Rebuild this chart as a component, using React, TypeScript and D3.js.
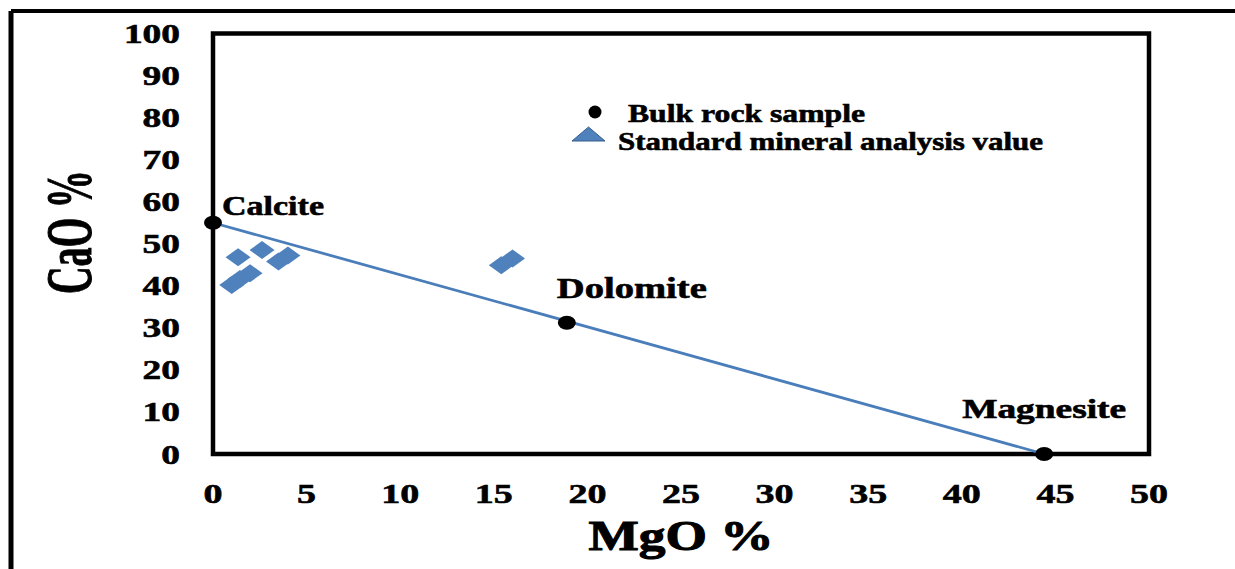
import React from 'react';
import * as d3 from 'd3';

// CaO vs MgO, bulk rock samples and standard mineral values
const bulkNames = ['Calcite', 'Dolomite', 'Magnesite'];
const bulkMgO = [0, 18.9, 44.4];
const bulkCaO = [55, 31.2, 0];

const mineralMgO = [1.0, 1.44, 1.98, 1.34, 2.62, 3.5, 4.0, 15.4, 16.0];
const mineralCaO = [40.2, 41.6, 43.0, 46.8, 48.5, 45.8, 47.2, 44.9, 46.5];

const xTicks = [0, 5, 10, 15, 20, 25, 30, 35, 40, 45, 50];
const yTicks = [0, 10, 20, 30, 40, 50, 60, 70, 80, 90, 100];

const width = 1235;
const height = 569;
const font = '"Liberation Serif", "Times New Roman", serif';
const blue = '#4f81bd';

const App = () => {
  const x = d3.scaleLinear().domain([0, 50]).range([213, 1149]);
  const y = d3.scaleLinear().domain([0, 100]).range([454, 33.5]);

  const trend = d3.line<number>()
    .x(i => x(bulkMgO[i]))
    .y(i => y(bulkCaO[i]));

  const diamond = (cx: number, cy: number) =>
    `M${cx - 12.5},${cy} L${cx},${cy - 9} L${cx + 12.5},${cy} L${cx},${cy + 9} Z`;

  // label offsets relative to each bulk point
  const labelPos = [
    { dx: 9, dy: -8, len: 102, size: 28 },
    { dx: -10, dy: -25, len: 150, size: 29 },
    { dx: -82, dy: -36, len: 164, size: 27 },
  ];

  // bold text, slightly thickened like the stretched original
  const heavy = { fontFamily: font, fontWeight: 'bold' as const, stroke: '#000', strokeWidth: 0.6 };

  return (
    <svg width={width} height={height} style={{ position: 'absolute', left: 0, top: 0, background: '#fff' }}>
      {/* outer frame (left + top visible) */}
      <line x1={11} y1={11} x2={width} y2={11} stroke="#000" strokeWidth={4} />
      <line x1={11} y1={11} x2={11} y2={height} stroke="#000" strokeWidth={5} />

      {/* plot frame */}
      <rect x={x(0)} y={y(100)} width={x(50) - x(0)} height={y(0) - y(100)}
        fill="none" stroke="#000" strokeWidth={4.5} />

      {/* y tick labels */}
      {yTicks.map(t => (
        <text key={'y' + t} x={180} y={y(t) + 9.5} textAnchor="end" {...heavy} fontSize={28}
          textLength={String(t).length * 18.7} lengthAdjust="spacingAndGlyphs">{t}</text>
      ))}

      {/* x tick labels */}
      {xTicks.map(t => (
        <text key={'x' + t} x={x(t)} y={503} textAnchor="middle" {...heavy} fontSize={28}
          textLength={String(t).length * 19} lengthAdjust="spacingAndGlyphs">{t}</text>
      ))}

      {/* axis titles */}
      <text x={681} y={550} textAnchor="middle" {...heavy} strokeWidth={1}
        fontSize={42} textLength={185} lengthAdjust="spacingAndGlyphs">MgO %</text>
      <text transform="translate(91,232) rotate(-90)" textAnchor="middle" {...heavy} strokeWidth={1}
        fontSize={66} textLength={124} lengthAdjust="spacingAndGlyphs">CaO %</text>

      {/* trend line calcite -> magnesite */}
      <path d={trend([0, bulkMgO.length - 1]) || ''} fill="none" stroke="#4a7ebb" strokeWidth={2.8} />

      {/* standard mineral values */}
      {mineralMgO.map((m, i) => (
        <path key={'m' + i} d={diamond(x(m), y(mineralCaO[i]))} fill={blue} />
      ))}

      {/* bulk rock samples */}
      {bulkMgO.map((m, i) => (
        <ellipse key={'b' + i} cx={x(m)} cy={y(bulkCaO[i])} rx={9} ry={7} fill="#000" />
      ))}
      {bulkNames.map((n, i) => (
        <text key={'l' + n} x={x(bulkMgO[i]) + labelPos[i].dx} y={y(bulkCaO[i]) + labelPos[i].dy}
          {...heavy} fontSize={labelPos[i].size}
          textLength={labelPos[i].len} lengthAdjust="spacingAndGlyphs">{n}</text>
      ))}

      {/* legend */}
      <ellipse cx={595} cy={112} rx={6.5} ry={6.5} fill="#000" />
      <text x={628} y={122} {...heavy} fontSize={25}
        textLength={237} lengthAdjust="spacingAndGlyphs">Bulk rock sample</text>
      <path d="M572,141 L588.5,127 L605,141 Z" fill={blue} stroke="#385d8a" strokeWidth={1} />
      <text x={618} y={150} {...heavy} fontSize={25}
        textLength={425} lengthAdjust="spacingAndGlyphs">Standard mineral analysis value</text>
    </svg>
  );
};

export default App;
